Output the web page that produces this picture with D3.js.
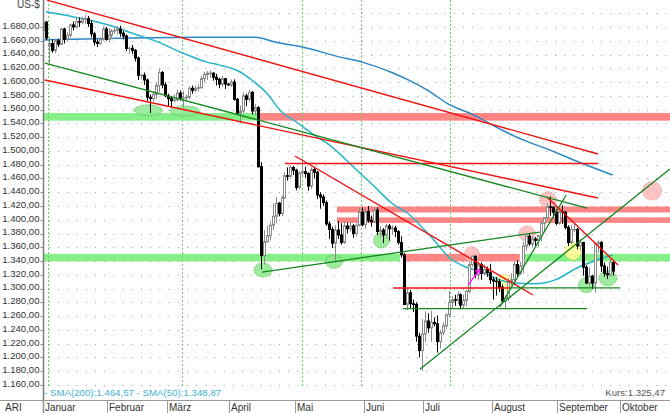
<!DOCTYPE html>
<html><head><meta charset="utf-8">
<script src="https://cdn.jsdelivr.net/npm/d3@7"></script>
<style>
body{margin:0;background:#fff;}
svg{display:block;font-family:Arial,"Liberation Sans",sans-serif;}
</style></head>
<body><svg id="chart" width="670" height="413"></svg>
<script>
// ---------- DATA ----------
const candleStart = "2013-01-02", candleEnd = "2013-09-26";
const opens = [1675,1687,1652,1656,1646,1660,1655,1677,1662,1668,1683,1680,1688,1687,1692,1692,1685,1670,1658,1656,1662,1677,
1662,1668,1674,1675,1677,1671,1667,1649,1649,1646,1635,1610,1610,1603,1578,1576,1582,1595,1614,1596,
1580,1576,1573,1574,1584,1577,1577,1578,1591,1588,1591,1592,1605,1611,1613,1613,1607,1604,1597,1605,1597,
1596,1600,1575,1555,1558,1580,1575,1585,1558,1563,1477,1348,1368,1377,1392,1405,1424,1409,1432,1464,1463,1476,
1472,1447,1468,1470,1467,1449,1473,1469,1436,1433,1425,1394,1386,1366,1385,1378,1367,1391,1387,1391,1380,1392,1411,
1393,1412,1399,1397,1414,1383,1385,1378,1391,1387,1388,1383,1367,1349,1277,1294,1278,1277,1231,1210,
1234,1253,1243,1251,1249,1223,1236,1246,1262,1280,1284,1283,1291,1276,1283,1296,1335,1347,1320,1335,1322,1328,1323,
1313,1311,1310,1302,1282,1286,1309,1313,1335,1322,1333,1362,1376,1365,1372,1370,1377,1395,1403,1419,1418,1411,
1395,1412,1411,1389,1367,1386,1386,1362,1367,1331,1308,1318,1308,1365,1367,1333,1322,1320,1338];
const highs = [1693,1689,1665,1662,1663,1663,1679,1679,1672,1685,1688,1693,1694,1695,1697,1696,1690,1673,1662,1665,1681,1680,
1678,1677,1679,1681,1682,1674,1669,1652,1654,1648,1637,1612,1614,1605,1582,1586,1600,1619,1616,1600,
1583,1580,1582,1589,1588,1587,1582,1594,1595,1595,1597,1609,1615,1616,1617,1614,1612,1606,1609,1606,1599,
1604,1604,1577,1566,1585,1583,1588,1587,1568,1565,1484,1385,1392,1397,1424,1433,1426,1435,1469,1476,1479,1478,
1474,1470,1488,1477,1469,1476,1477,1471,1440,1437,1428,1398,1390,1392,1398,1395,1398,1396,1398,1394,1395,1418,1418,
1416,1420,1406,1418,1418,1391,1388,1394,1394,1392,1391,1385,1376,1352,1300,1298,1284,1280,1236,1256,
1267,1264,1268,1258,1261,1240,1251,1264,1297,1289,1291,1296,1293,1291,1298,1339,1348,1348,1338,1338,1335,1332,1336,
1317,1317,1314,1306,1290,1315,1322,1340,1341,1339,1368,1378,1380,1376,1375,1378,1399,1404,1424,1434,1420,1415,
1413,1421,1413,1392,1392,1394,1388,1372,1368,1334,1330,1320,1368,1370,1369,1338,1332,1343,1340];
const lows = [1673,1661,1627,1643,1642,1651,1654,1656,1660,1665,1675,1678,1680,1684,1684,1680,1665,1653,1651,1654,1660,1660,
1658,1665,1670,1669,1666,1662,1645,1641,1641,1630,1603,1604,1596,1573,1555,1572,1575,1585,1591,1578,
1565,1563,1571,1572,1573,1563,1573,1575,1583,1585,1586,1590,1600,1603,1606,1602,1595,1591,1593,1590,1594,
1593,1573,1553,1540,1555,1565,1572,1553,1552,1476,1328,1335,1367,1370,1385,1395,1405,1405,1430,1457,1460,1465,
1443,1444,1462,1461,1442,1445,1460,1430,1416,1420,1391,1372,1359,1338,1372,1364,1365,1380,1383,1374,1376,1390,1390,
1387,1396,1390,1395,1378,1375,1366,1373,1370,1378,1375,1364,1345,1276,1269,1271,1266,1223,1200,1180,
1222,1236,1223,1245,1207,1213,1232,1241,1259,1272,1275,1278,1270,1271,1274,1293,1332,1315,1312,1313,1319,1317,1307,
1284,1290,1295,1280,1271,1282,1303,1306,1316,1320,1322,1355,1362,1360,1362,1360,1368,1383,1400,1406,1403,1392,
1393,1394,1386,1362,1364,1382,1357,1355,1319,1307,1304,1300,1294,1352,1324,1317,1314,1318,1319];
const closes = [1687,1664,1656,1646,1660,1655,1677,1662,1668,1683,1680,1688,1687,1692,1692,1685,1670,1658,1656,1662,1677,1662,
1668,1674,1675,1677,1671,1667,1649,1649,1646,1635,1610,1610,1603,1578,1576,1582,1595,1614,1596,1580,
1576,1573,1574,1584,1577,1577,1578,1591,1588,1591,1592,1605,1611,1613,1613,1607,1604,1597,1605,1597,1596,
1600,1575,1555,1558,1580,1575,1585,1558,1563,1477,1348,1368,1377,1392,1405,1424,1409,1432,1464,1463,1476,1472,
1447,1468,1470,1467,1449,1473,1469,1436,1433,1425,1394,1386,1366,1385,1378,1367,1391,1387,1391,1380,1392,1411,1393,
1412,1399,1397,1414,1383,1385,1378,1391,1387,1388,1383,1367,1349,1277,1294,1278,1277,1231,1210,1234,
1253,1243,1251,1249,1223,1236,1246,1262,1280,1284,1283,1291,1276,1283,1296,1335,1347,1320,1335,1322,1328,1323,1313,
1311,1310,1302,1282,1286,1309,1313,1335,1322,1333,1362,1376,1365,1372,1370,1377,1395,1403,1419,1418,1411,1395,
1412,1411,1389,1367,1386,1386,1362,1367,1331,1308,1318,1308,1365,1367,1333,1322,1320,1338,1325.47];

// moving averages: [weekday index, value]
const sma200 = [[1,1661],[30,1664],[60,1665],[72,1665],[80,1657],[88,1651],[100,1637],[108,1629],[118,1614],[124,1602],[130,1588],[137,1568],[145,1553],[155,1530],[162,1516],[170,1503],[180,1485],[192,1465]];
const sma50 = [[2,1702],[11,1695],[23,1683],[33,1668],[38,1661],[48,1642],[56,1629],[60,1625],[67,1615],[71,1603],[76,1584],[81,1557],[86,1542],[93,1520],[96,1512],[106,1473],[111,1453],[118,1424],[124,1407],[129,1385],[132,1371],[137,1346],[143,1331],[148,1324],[154,1313],[159,1308],[166,1307],[173,1313],[180,1330],[187,1342],[192,1349]];
const smaLabels = ["- SMA(200):1.464,57 - SMA(50):1.348,87"];
const lastPrice = "Kurs:1.325,47";

// y tick values
const yTicks = d3.range(1160, 1681, 20);
const gridRows = d3.range(1160, 1701, 20);
const monthNames = ["Januar","Februar","März","April","Mai","Juni","Juli","August","September","Oktober"];

// annotations (weekday index, price)
const redLines = [[2.4,1719,187.1,1495.5],[1.7,1603,187.1,1431.6],[82.2,1481.7,187.1,1481.7],[85.5,1492.6,165.3,1290.7],[170,1433,193.8,1334.3],[118.4,1301,157.6,1301]];
const greenLines = [[1.7,1627.7,183.4,1417],[74.5,1324,167.6,1382.2],[121.7,1271,183.4,1271],[127.4,1183,211.2,1473.8],[154.2,1273.3,176.4,1436],[157.6,1301,194.5,1301]];
const bands = [
  {from:1.4,to:73.1,lo:1544,hi:1555,kind:"green"},
  {from:73.1,to:212,lo:1544,hi:1555,kind:"red"},
  {from:1.4,to:120.7,lo:1339.5,hi:1350.5,kind:"green"},
  {from:121.7,to:160.9,lo:1339.5,hi:1350.5,kind:"red"},
  {from:161.9,to:212,lo:1339.5,hi:1350.5,kind:"green"},
  {from:99.6,to:212,lo:1410.6,hi:1419.3,kind:"red"},
  {from:99.6,to:212,lo:1395.5,hi:1403.5,kind:"red"}];
const ellipses = [
  {i:36.3,v:1559,kind:"green"},{i:48.6,v:1558,kind:"green"},{i:74.8,v:1327,kind:"green"},{i:98.6,v:1339,kind:"green"},
  {i:114.5,v:1370,kind:"green"},{i:183.2,v:1305,kind:"green"},{i:190.4,v:1315,kind:"green"},
  {i:144.8,v:1350,kind:"red"},{i:163.3,v:1380,kind:"red"},{i:170.3,v:1429,kind:"red"},{i:205.2,v:1442,kind:"red"},
  {i:155.6,v:1308,kind:"yellow"},{i:178.7,v:1354,kind:"yellow"}];
const ellipseSize = [[14,5.5],[15,5],[9,7],[8.5,6.5],[8,7.5],[8,7.5],[9,7.5],[7.5,7.5],[8,7.5],[8.5,8],[9.5,9],[7.5,8.5],[8,8.5]];
const arrow = [143.5,1305,147.5,1328];
const eventDays = [2.7,47.6,87.9,107.6,137.5];

// ---------- SCALES ----------
const parse = d3.timeParse("%Y-%m-%d");
const isWd = d => d.getDay() !== 0 && d.getDay() !== 6;
const axisDays = d3.timeDay.range(new Date(2013,0,1), new Date(2013,10,1)).filter(isWd);
const dayIndex = new Map(axisDays.map((d,i)=>[+d,i]));
const candleDays = axisDays.filter(d => d >= parse(candleStart) && d <= parse(candleEnd));
const candles = candleDays.map((d,k)=>({i:dayIndex.get(+d),o:opens[k],h:highs[k],l:lows[k],c:closes[k]}));

const x = d3.scaleLinear().domain([0,212]).range([38.4,670.8]);
const xc = i => x(i+0.5);
const y = d3.scaleLinear().domain([1160,1680]).range([385,27]);
const AX = 43;

const svg = d3.select("#chart");
const loc = d3.formatLocale({decimal:",",thousands:".",grouping:[3],currency:["","$"]});
const fmt = loc.format(",.2f");

const COL = {green:"#86ee86", red:"#ff8484", yellow:"#ffff8a"};

const plot = svg.append("g");
plot.append("clipPath").attr("id","clip").append("rect").attr("x",AX+1).attr("y",0).attr("width",670-AX).attr("height",399);
const pg = plot.append("g").attr("clip-path","url(#clip)");

// bands
pg.selectAll("rect.band").data(bands).join("rect").attr("class","band")
  .attr("x",d=>xc(d.from)).attr("width",d=>xc(d.to)-xc(d.from))
  .attr("y",d=>y(d.hi)).attr("height",d=>y(d.lo)-y(d.hi))
  .attr("fill",d=>COL[d.kind]);

// dotted grid
pg.selectAll("line.grid").data(gridRows).join("line").attr("class","grid")
  .attr("x1",AX+6).attr("x2",670).attr("y1",d=>Math.round(y(d))+0.5).attr("y2",d=>Math.round(y(d))+0.5)
  .attr("stroke","#9a9a9a").attr("stroke-width",1).attr("stroke-dasharray","1,8.2");

// event verticals
pg.selectAll("line.ev").data(eventDays).join("line").attr("class","ev")
  .attr("x1",d=>Math.round(xc(d))+0.5).attr("x2",d=>Math.round(xc(d))+0.5).attr("y1",0).attr("y2",388)
  .attr("stroke","#5fd65f").attr("stroke-width",1).attr("stroke-dasharray","2,2");

// ellipses
pg.selectAll("ellipse").data(ellipses).join("ellipse")
  .attr("cx",d=>xc(d.i)).attr("cy",d=>y(d.v))
  .attr("rx",(d,k)=>ellipseSize[k][0]).attr("ry",(d,k)=>ellipseSize[k][1])
  .attr("fill",d=>d.kind==="green"?"#8ee88e":d.kind==="red"?"#ffb8b8":"#ffff90")
  .attr("fill-opacity",0.85)
  .attr("stroke",d=>d.kind==="green"?"#55bb55":d.kind==="red"?"#e08888":"#d8d860")
  .attr("stroke-width",1).attr("stroke-dasharray","1.5,1.5");

// SMA lines
const line = d3.line().x(d=>xc(d[0])).y(d=>y(d[1])).curve(d3.curveMonotoneX);
pg.append("path").attr("d",line(sma200)).attr("fill","none").attr("stroke","#2a86c6").attr("stroke-width",1.5);
pg.append("path").attr("d",line(sma50)).attr("fill","none").attr("stroke","#22b4c8").attr("stroke-width",1.5);

// candles
const cg = pg.append("g");
candles.forEach(d=>{
  const r = Math.round(xc(d.i));
  const up = d.c >= d.o;
  cg.append("line").attr("x1",r+0.5).attr("x2",r+0.5).attr("y1",y(d.h)).attr("y2",y(d.l))
    .attr("stroke",up?"#8a8a8a":"#000").attr("stroke-width",1);
  const top = y(Math.max(d.o,d.c)), bot = y(Math.min(d.o,d.c));
  cg.append("rect").attr("x",r-0.5).attr("width",2).attr("y",top).attr("height",Math.max(bot-top,0.5))
    .attr("fill",up?"#fff":"#000").attr("stroke",up?"#8a8a8a":"#000").attr("stroke-width",1);
});

// trend lines
const tl = (arr,color,w)=>pg.selectAll(null).data(arr).join("line")
  .attr("x1",d=>xc(d[0])).attr("y1",d=>y(d[1])).attr("x2",d=>xc(d[2])).attr("y2",d=>y(d[3]))
  .attr("stroke",color).attr("stroke-width",w);
tl(redLines,"#f01010",1.4);
tl(greenLines,"#14861e",1.3);

// magenta arrow
const ax1=xc(arrow[0]), ay1=y(arrow[1]), ax2=xc(arrow[2]), ay2=y(arrow[3]);
pg.append("line").attr("x1",ax1).attr("y1",ay1).attr("x2",ax2).attr("y2",ay2).attr("stroke","#ff20ff").attr("stroke-width",1.5);
const ang=Math.atan2(ay2-ay1,ax2-ax1);
[ang+2.6, ang-2.6].forEach(a=>pg.append("line").attr("x1",ax2).attr("y1",ay2)
  .attr("x2",ax2+5*Math.cos(a)).attr("y2",ay2+5*Math.sin(a)).attr("stroke","#ff20ff").attr("stroke-width",1.5));

// ---------- AXES ----------
svg.append("line").attr("x1",AX+0.5).attr("x2",AX+0.5).attr("y1",0).attr("y2",413).attr("stroke","#7a7a7a").attr("stroke-width",1.5);
svg.append("line").attr("x1",0).attr("x2",670).attr("y1",400.5).attr("y2",400.5).attr("stroke","#999");
svg.selectAll("text.yl").data(yTicks).join("text").attr("class","yl")
  .attr("x",39.5).attr("y",d=>y(d)-1.5).attr("dy","0.35em").attr("text-anchor","end")
  .attr("font-size","9.6px").attr("fill","#333").text(d=>fmt(d));
svg.selectAll("line.yt").data(yTicks).join("line").attr("class","yt")
  .attr("x1",40.5).attr("x2",AX).attr("y1",d=>Math.round(y(d))+0.5).attr("y2",d=>Math.round(y(d))+0.5)
  .attr("stroke","#888");
svg.append("text").attr("x",17).attr("y",8).attr("font-size","10px").attr("fill","#444").text("US-$");

const monthStarts = monthNames.map((m,k)=>axisDays.findIndex(d=>d.getMonth()===k));
const mx = monthStarts.map((i,k)=> k===0 ? AX : Math.round(x(i)));
svg.selectAll("line.mt").data(mx).join("line").attr("class","mt")
  .attr("x1",d=>d+0.5).attr("x2",d=>d+0.5).attr("y1",400).attr("y2",413).attr("stroke","#999");
svg.selectAll("text.ml").data(monthNames).join("text").attr("class","ml")
  .attr("x",(d,k)=>mx[k]+2).attr("y",411).attr("font-size","10px").attr("fill","#333").text(d=>d);
svg.append("text").attr("x",5).attr("y",411).attr("font-size","10px").attr("fill","#333").text("ARI");
svg.append("text").attr("x",AX+1).attr("y",396).attr("font-size","9.7px").attr("fill","#3fb2d2").text(smaLabels[0]);
svg.append("text").attr("x",665).attr("y",396).attr("text-anchor","end").attr("font-size","9.6px").attr("fill","#555").text(lastPrice);
</script></body></html>
